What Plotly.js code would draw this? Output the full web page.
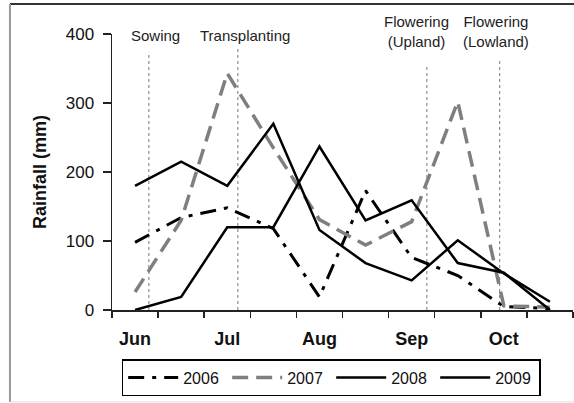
<!DOCTYPE html>
<html>
<head>
<meta charset="utf-8">
<script src="https://cdn.plot.ly/plotly-3.0.1.min.js"></script>
<style>
  html, body { margin: 0; padding: 0; background: #fff; }
  #chart { width: 574px; height: 403px; }
</style>
</head>
<body>
<div id="chart"></div>
<script>
// Half-month periods (two points per month)
const periods = ["Jun", "Jun (2)", "Jul", "Jul (2)", "Aug", "Aug (2)", "Sep", "Sep (2)", "Oct", "Oct (2)"];
const monthTicks = ["Jun", "Jul", "Aug", "Sep", "Oct"];

// Rainfall (mm)
const rain2006 = [98, 134, 148, 118, 19, 173, 76, 50, 5, 2];
const rain2007 = [26, 130, 343, 235, 131, 94, 128, 302, 6, 4];
const rain2008 = [180, 215, 180, 270, 116, 68, 43, 101, 53, 12];
const rain2009 = [0, 19, 120, 120, 237, 130, 159, 68, 54, 0];

// Crop stages (position on the period axis) and labels
const stageLabels = ["Sowing", "Transplanting", "Flowering<br>(Upland)", "Flowering<br>(Lowland)"];
const stageX = [0.30, 2.23, 6.33, 7.91];
const stageTop = [374, 380, 355, 362];
const stageLabelX = [0.44, 2.39, 6.10, 7.82];
const stageLabelY = [0.993, 0.993, 1.009, 1.009];

const xIdx = periods.map((p, i) => i);
const tickIdx = monthTicks.map(m => periods.indexOf(m));

const FONT = "Liberation Sans, Arial, sans-serif";

const traces = [
  { name: "2006", x: xIdx, y: rain2006, mode: "lines",
    line: { color: "#000", width: 3, dash: "16px,8px,4px,8px" } },
  { name: "2007", x: xIdx, y: rain2007, mode: "lines",
    line: { color: "#7f7f7f", width: 3.5, dash: "16px,8px" } },
  { name: "2008", x: xIdx, y: rain2008, mode: "lines",
    line: { color: "#000", width: 2.5 } },
  { name: "2009", x: xIdx, y: rain2009, mode: "lines",
    line: { color: "#000", width: 2.5 } }
];

const shapes = stageX.map((x, i) => ({
  type: "line", xref: "x", yref: "y", x0: x, x1: x, y0: 0, y1: stageTop[i],
  line: { color: "#777", width: 1, dash: "dot" }, layer: "below"
}));
// outer frame
shapes.push({ type: "line", xref: "paper", yref: "paper", x0: -0.2213, x1: 1.01, y0: 1.1087, y1: 1.1087,
  line: { color: "#333", width: 2 } });
shapes.push({ type: "line", xref: "paper", yref: "paper", x0: -0.2213, x1: -0.2213, y0: 1.1087, y1: -0.333,
  line: { color: "#999", width: 2 } });
shapes.push({ type: "line", xref: "paper", yref: "paper", x0: -0.2213, x1: 1.01, y0: -0.333, y1: -0.333,
  line: { color: "#ddd", width: 1 } });

const annotations = stageLabels.map((t, i) => ({
  text: t, x: stageLabelX[i], y: stageLabelY[i], xref: "x", yref: "paper",
  showarrow: false, xanchor: "center", yanchor: "middle",
  font: { family: FONT, size: 15, color: "#222" }
}));

const layout = {
  width: 574, height: 403,
  margin: { l: 112, r: 1, t: 34, b: 93, pad: 0, autoexpand: false },
  paper_bgcolor: "#fff", plot_bgcolor: "#fff",
  showlegend: true,
  legend: {
    orientation: "h", x: 0.021, y: -0.178, xanchor: "left", yanchor: "top",
    bordercolor: "#000", borderwidth: 1.5, bgcolor: "#fff",
    font: { family: FONT, size: 16, color: "#111" },
    itemwidth: 50,
    entrywidth: 39, entrywidthmode: "pixels", traceorder: "normal"
  },
  xaxis: {
    range: [-0.5, 9.5], showgrid: false, zeroline: false,
    showline: true, linecolor: "#222", linewidth: 1.5,
    tickmode: "array", tickvals: tickIdx, ticktext: monthTicks,
    ticks: "", ticklabelstandoff: 12,
    tickfont: { family: FONT, size: 18, color: "#111", weight: "bold" },
    minor: { tick0: -0.5, dtick: 1, ticks: "outside", ticklen: 6, tickwidth: 1.5, tickcolor: "#222", showgrid: false }
  },
  yaxis: {
    range: [0, 400], dtick: 100, showgrid: false, zeroline: false,
    showline: true, linecolor: "#222", linewidth: 1.5,
    ticks: "outside", ticklen: 8, tickwidth: 1.5, tickcolor: "#222",
    ticklabelstandoff: 5,
    tickfont: { family: FONT, size: 17, color: "#111" },
    title: { text: "Rainfall (mm)", standoff: 14,
      font: { family: FONT, size: 18, color: "#111", weight: "bold" } }
  },
  shapes: shapes,
  annotations: annotations
};

Plotly.newPlot("chart", traces, layout, { staticPlot: true });
</script>
</body>
</html>
